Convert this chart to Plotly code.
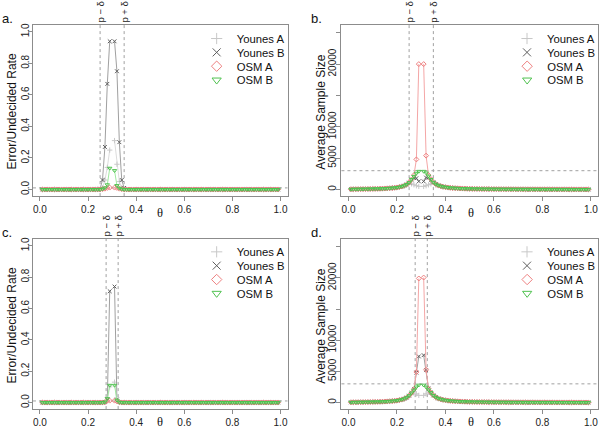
import plotly.graph_objects as go

# ---------------- data ----------------
theta = [round(0.01 * i, 2) for i in range(1, 100)]   # 0.01 ... 0.99 (0.30 is NA)
p = 0.30
delta_top = 0.05
delta_bottom = 0.025
alpha_line = 0.01
n_line = 3000

series_names = ["Younes A", "Younes B", "OSM A", "OSM B"]

# Panel a: error / undecided rate, delta = 0.05
err_a_younesA = [0,0,0,0,0,0,0,0,0,0,
                 0,0,0,0,0,0,0,0,0,0,
                 0,0,0,0,0,0.01,0.06,0.14,0.25,None,
                 0.31,0.16,0.05,0.01,0,0,0,0,0,0,
                 0,0,0,0,0,0,0,0,0,0,
                 0,0,0,0,0,0,0,0,0,0,
                 0,0,0,0,0,0,0,0,0,0,
                 0,0,0,0,0,0,0,0,0,0,
                 0,0,0,0,0,0,0,0,0,0,
                 0,0,0,0,0,0,0,0,0]
err_a_younesB = [0,0,0,0,0,0,0,0,0,0,
                 0,0,0,0,0,0,0,0,0,0,
                 0,0,0,0,0.005,0.06,0.27,0.67,0.94,None,
                 0.94,0.75,0.30,0.06,0.01,0,0,0,0,0,
                 0,0,0,0,0,0,0,0,0,0,
                 0,0,0,0,0,0,0,0,0,0,
                 0,0,0,0,0,0,0,0,0,0,
                 0,0,0,0,0,0,0,0,0,0,
                 0,0,0,0,0,0,0,0,0,0,
                 0,0,0,0,0,0,0,0,0]
err_a_osmA = [0,0,0,0,0,0,0,0,0,0,
              0,0,0,0,0,0,0,0,0,0,
              0,0,0,0,0,0.002,0.005,0.01,0.012,None,
              0.012,0.01,0.005,0.002,0,0,0,0,0,0,
              0,0,0,0,0,0,0,0,0,0,
              0,0,0,0,0,0,0,0,0,0,
              0,0,0,0,0,0,0,0,0,0,
              0,0,0,0,0,0,0,0,0,0,
              0,0,0,0,0,0,0,0,0,0,
              0,0,0,0,0,0,0,0,0]
err_a_osmB = [0,0,0,0,0,0,0,0,0,0,
              0,0,0,0,0,0,0,0,0,0,
              0,0,0,0,0,0.003,0.01,0.03,0.135,None,
              0.12,0.025,0.008,0.002,0,0,0,0,0,0,
              0,0,0,0,0,0,0,0,0,0,
              0,0,0,0,0,0,0,0,0,0,
              0,0,0,0,0,0,0,0,0,0,
              0,0,0,0,0,0,0,0,0,0,
              0,0,0,0,0,0,0,0,0,0,
              0,0,0,0,0,0,0,0,0]

# Panel c: error / undecided rate, delta = 0.025
err_c_younesA = [0,0,0,0,0,0,0,0,0,0,
                 0,0,0,0,0,0,0,0,0,0,
                 0,0,0,0,0,0,0.002,0.01,0.10,None,
                 0.13,0.01,0.002,0,0,0,0,0,0,0,
                 0,0,0,0,0,0,0,0,0,0,
                 0,0,0,0,0,0,0,0,0,0,
                 0,0,0,0,0,0,0,0,0,0,
                 0,0,0,0,0,0,0,0,0,0,
                 0,0,0,0,0,0,0,0,0,0,
                 0,0,0,0,0,0,0,0,0]
err_c_younesB = [0,0,0,0,0,0,0,0,0,0,
                 0,0,0,0,0,0,0,0,0,0,
                 0,0,0,0,0,0,0.003,0.02,0.71,None,
                 0.74,0.02,0.003,0,0,0,0,0,0,0,
                 0,0,0,0,0,0,0,0,0,0,
                 0,0,0,0,0,0,0,0,0,0,
                 0,0,0,0,0,0,0,0,0,0,
                 0,0,0,0,0,0,0,0,0,0,
                 0,0,0,0,0,0,0,0,0,0,
                 0,0,0,0,0,0,0,0,0]
err_c_osmA = [0,0,0,0,0,0,0,0,0,0,
              0,0,0,0,0,0,0,0,0,0,
              0,0,0,0,0,0,0.002,0.012,0.012,None,
              0.012,0.008,0.002,0,0,0,0,0,0,0,
              0,0,0,0,0,0,0,0,0,0,
              0,0,0,0,0,0,0,0,0,0,
              0,0,0,0,0,0,0,0,0,0,
              0,0,0,0,0,0,0,0,0,0,
              0,0,0,0,0,0,0,0,0,0,
              0,0,0,0,0,0,0,0,0]
err_c_osmB = [0,0,0,0,0,0,0,0,0,0,
              0,0,0,0,0,0,0,0,0,0,
              0,0,0,0,0,0,0.003,0.025,0.11,None,
              0.11,0.015,0.002,0,0,0,0,0,0,0,
              0,0,0,0,0,0,0,0,0,0,
              0,0,0,0,0,0,0,0,0,0,
              0,0,0,0,0,0,0,0,0,0,
              0,0,0,0,0,0,0,0,0,0,
              0,0,0,0,0,0,0,0,0,0,
              0,0,0,0,0,0,0,0,0]

# Panel b: average sample size, delta = 0.05
n_b_younesA = [40,45,50,55,60,65,70,80,85,95,
               105,115,125,140,160,180,205,235,275,325,
               390,480,610,800,1100,900,750,600,500,None,
               500,600,750,900,1150,850,660,530,440,370,
               315,275,240,212,190,170,155,140,128,118,
               108,100,93,87,81,76,71,67,63,60,
               57,54,51,49,46,44,42,40,38,37,
               35,34,32,31,30,29,28,27,26,25,
               24,23,22,21,21,20,19,18,18,17,
               16,16,15,14,14,13,12,12,11]
n_b_younesB = [40,45,50,55,60,65,70,80,85,95,
               105,115,125,140,160,180,205,235,275,325,
               390,480,610,800,1100,1550,1850,1800,1300,None,
               1300,1900,1900,1550,1150,850,660,530,440,370,
               315,275,240,212,190,170,155,140,128,118,
               108,100,93,87,81,76,71,67,63,60,
               57,54,51,49,46,44,42,40,38,37,
               35,34,32,31,30,29,28,27,26,25,
               24,23,22,21,21,20,19,18,18,17,
               16,16,15,14,14,13,12,12,11]
n_b_osmA = [40,45,50,55,60,65,70,80,85,95,
            105,115,125,140,160,180,205,235,275,325,
            390,480,610,800,1100,1600,2300,4800,20000,None,
            20000,5400,2300,1650,1150,850,660,530,440,370,
            315,275,240,212,190,170,155,140,128,118,
            108,100,93,87,81,76,71,67,63,60,
            57,54,51,49,46,44,42,40,38,37,
            35,34,32,31,30,29,28,27,26,25,
            24,23,22,21,21,20,19,18,18,17,
            16,16,15,14,14,13,12,12,11]
n_b_osmB = [40,45,50,55,60,65,70,80,85,95,
            105,115,125,140,160,180,205,235,275,325,
            390,480,610,800,1100,1600,2100,2600,2900,None,
            2900,2650,2150,1600,1150,850,660,530,440,370,
            315,275,240,212,190,170,155,140,128,118,
            108,100,93,87,81,76,71,67,63,60,
            57,54,51,49,46,44,42,40,38,37,
            35,34,32,31,30,29,28,27,26,25,
            24,23,22,21,21,20,19,18,18,17,
            16,16,15,14,14,13,12,12,11]

# Panel d: average sample size, delta = 0.025
n_d_younesA = [40,45,50,55,60,65,70,80,85,95,
               105,115,125,140,160,180,205,235,275,325,
               390,480,610,800,1100,1550,1700,1400,1150,None,
               1150,1400,1700,1600,1150,850,660,530,440,370,
               315,275,240,212,190,170,155,140,128,118,
               108,100,93,87,81,76,71,67,63,60,
               57,54,51,49,46,44,42,40,38,37,
               35,34,32,31,30,29,28,27,26,25,
               24,23,22,21,21,20,19,18,18,17,
               16,16,15,14,14,13,12,12,11]
n_d_younesB = [40,45,50,55,60,65,70,80,85,95,
               105,115,125,140,160,180,205,235,275,325,
               390,480,610,800,1100,1550,2150,4800,7400,None,
               7600,5200,2250,1600,1150,850,660,530,440,370,
               315,275,240,212,190,170,155,140,128,118,
               108,100,93,87,81,76,71,67,63,60,
               57,54,51,49,46,44,42,40,38,37,
               35,34,32,31,30,29,28,27,26,25,
               24,23,22,21,21,20,19,18,18,17,
               16,16,15,14,14,13,12,12,11]
n_d_osmA = [40,45,50,55,60,65,70,80,85,95,
            105,115,125,140,160,180,205,235,275,325,
            390,480,610,800,1100,1550,2150,4900,19900,None,
            20050,5250,2250,1600,1150,850,660,530,440,370,
            315,275,240,212,190,170,155,140,128,118,
            108,100,93,87,81,76,71,67,63,60,
            57,54,51,49,46,44,42,40,38,37,
            35,34,32,31,30,29,28,27,26,25,
            24,23,22,21,21,20,19,18,18,17,
            16,16,15,14,14,13,12,12,11]
n_d_osmB = [40,45,50,55,60,65,70,80,85,95,
            105,115,125,140,160,180,205,235,275,325,
            390,480,610,800,1100,1550,2000,2500,2800,None,
            2800,2500,2050,1600,1150,850,660,530,440,370,
            315,275,240,212,190,170,155,140,128,118,
            108,100,93,87,81,76,71,67,63,60,
            57,54,51,49,46,44,42,40,38,37,
            35,34,32,31,30,29,28,27,26,25,
            24,23,22,21,21,20,19,18,18,17,
            16,16,15,14,14,13,12,12,11]

x_tickvals = [0, 0.2, 0.4, 0.6, 0.8, 1.0]
x_ticktext = ["0.0", "0.2", "0.4", "0.6", "0.8", "1.0"]
rate_tickvals = [0, 0.2, 0.4, 0.6, 0.8, 1.0]
rate_ticktext = ["0.0", "0.2", "0.4", "0.6", "0.8", "1.0"]
size_tickvals = [0, 5000, 10000, 15000, 20000, 25000]
size_ticktext = ["0", "5000", "10000", "", "20000", ""]

# ---------------- styles ----------------
FONT = "Liberation Sans"
W, H = 600, 431
line_colors = ["#dcdcdc", "#a0a0a0", "#f4a6a6", "#a0eaa0"]
marker_colors = ["#c8c8c8", "#5e5e5e", "#ee8080", "#4fc24f"]
symbols = ["cross-thin-open", "x-thin-open", "diamond-open", "triangle-down-open"]
box_color = "#8c8c8c"

def px_x(v):
    return v / W

def px_y(v):
    return 1 - v / H

panels = [
    dict(label="a.", xa="x", ya="y", data=[err_a_younesA, err_a_younesB, err_a_osmA, err_a_osmB],
         delta=delta_top, xd=[px_x(33), px_x(288)], yd=[px_y(195), px_y(23)], kind="rate"),
    dict(label="b.", xa="x2", ya="y2", data=[n_b_younesA, n_b_younesB, n_b_osmA, n_b_osmB],
         delta=delta_top, xd=[px_x(342), px_x(599)], yd=[px_y(195), px_y(23)], kind="size"),
    dict(label="c.", xa="x3", ya="y3", data=[err_c_younesA, err_c_younesB, err_c_osmA, err_c_osmB],
         delta=delta_bottom, xd=[px_x(33), px_x(288)], yd=[px_y(409), px_y(238)], kind="rate"),
    dict(label="d.", xa="x4", ya="y4", data=[n_d_younesA, n_d_younesB, n_d_osmA, n_d_osmB],
         delta=delta_bottom, xd=[px_x(342), px_x(599)], yd=[px_y(409), px_y(238)], kind="size"),
]

fig = go.Figure()
layout = dict(width=W, height=H, margin=dict(l=0, r=0, t=0, b=0),
              paper_bgcolor="white", plot_bgcolor="white",
              font=dict(family=FONT, size=10, color="#222"),
              showlegend=True)
shapes = []
annotations = []

legend_count = 0
for pi, pn in enumerate(panels):
    xa, ya = pn["xa"], pn["ya"]
    for si in range(4):
        fig.add_trace(go.Scatter(
            x=theta, y=pn["data"][si], mode="lines+markers",
            xaxis=xa, yaxis=ya, showlegend=False, connectgaps=False,
            line=dict(color=line_colors[si], width=1),
            marker=dict(symbol=symbols[si], size=3.8, color=marker_colors[si],
                        line=dict(color=marker_colors[si], width=1)),
            name=series_names[si]))
    left_px = 197 if pi % 2 == 0 else 508
    top_px = 36.7 if pi < 2 else 251
    for si in range(4):
        legend_count += 1
        lname = "legend" if legend_count == 1 else "legend%d" % legend_count
        fig.add_trace(go.Scatter(
            x=[None], y=[None], mode="markers", xaxis=xa, yaxis=ya,
            name=series_names[si], legend=lname, showlegend=True,
            marker=dict(symbol=symbols[si], size=8, color=marker_colors[si],
                        line=dict(color=marker_colors[si], width=1))))
        layout[lname] = dict(x=px_x(left_px), y=px_y(top_px + 13.9 * si),
                             xanchor="left", yanchor="middle",
                             bgcolor="rgba(0,0,0,0)", borderwidth=0,
                             itemwidth=30, font=dict(family=FONT, size=11.3, color="#111"))

    xkey = "xaxis" if xa == "x" else "xaxis" + xa[1:]
    ykey = "yaxis" if ya == "y" else "yaxis" + ya[1:]
    axis_common = dict(showline=True, linecolor=box_color, linewidth=1, mirror=True,
                       ticks="outside", ticklen=4, tickcolor=box_color, tickwidth=1,
                       showgrid=False, zeroline=False,
                       tickfont=dict(family=FONT, size=10, color="#222"))
    layout[xkey] = dict(axis_common, domain=pn["xd"], anchor=ya, range=[-0.0292, 1.0292],
                        tickmode="array", tickvals=x_tickvals, ticktext=x_ticktext)
    if pn["kind"] == "rate":
        layout[ykey] = dict(axis_common, domain=pn["yd"], anchor=xa, range=[-0.042, 1.044],
                            tickmode="array", tickvals=rate_tickvals, ticktext=rate_ticktext,
                            tickangle=-90, ticklabelstandoff=-5)
        hval = alpha_line
    else:
        layout[ykey] = dict(axis_common, domain=pn["yd"], anchor=xa, range=[-1050, 26250],
                            tickmode="array", tickvals=size_tickvals, ticktext=size_ticktext,
                            tickangle=-90, ticklabelstandoff=-4)
        hval = n_line

    xref = xa
    yref = ya
    dline = dict(color="#a0a0a0", width=1, dash="dot")
    for xv in [p - pn["delta"], p + pn["delta"]]:
        shapes.append(dict(type="line", xref=xref, yref=yref + " domain",
                           x0=xv, x1=xv, y0=0, y1=1, line=dline, layer="below"))
    shapes.append(dict(type="line", xref=xref + " domain", yref=yref,
                       x0=0, x1=1, y0=hval, y1=hval, line=dline, layer="below"))

    for xv, txt in [(p - pn["delta"], "p − δ"), (p + pn["delta"], "p + δ")]:
        annotations.append(dict(x=xv, xref=xref, y=pn["yd"][1], yref="paper",
                                text=txt, textangle=-90, showarrow=False,
                                xanchor="center", yanchor="bottom", yshift=0,
                                font=dict(family=FONT, size=9.5, color="#222")))

    lx = 0 if pi % 2 == 0 else 310
    ly = 16.5 if pi < 2 else 231.5
    annotations.append(dict(x=px_x(lx), y=px_y(ly), xref="paper", yref="paper",
                            text=pn["label"], showarrow=False, xanchor="left",
                            yanchor="middle", font=dict(family=FONT, size=13, color="#111")))

    theta_y = 212 if pi < 2 else 421.5
    tx = 160 if pi % 2 == 0 else 471.7
    annotations.append(dict(x=px_x(tx), y=px_y(theta_y), xref="paper", yref="paper",
                            text="θ", showarrow=False, xanchor="center", yanchor="middle",
                            font=dict(family="Liberation Serif", size=12.5, color="#111")))
    ytitle = "Error/Undecided Rate" if pn["kind"] == "rate" else "Average Sample Size"
    yx = 13 if pi % 2 == 0 else 321.7
    annotations.append(dict(x=px_x(yx), y=px_y(110 + (0 if pi < 2 else 215)), xref="paper",
                            yref="paper", text=ytitle, textangle=-90, showarrow=False,
                            xanchor="center", yanchor="middle",
                            font=dict(family=FONT, size=12, color="#111")))

layout["shapes"] = shapes
layout["annotations"] = annotations
fig.update_layout(**layout)
fig.write_html("out.html",
               config={"displayModeBar": False},
               post_script="document.body.style.margin='0';document.body.style.overflow='hidden';")
